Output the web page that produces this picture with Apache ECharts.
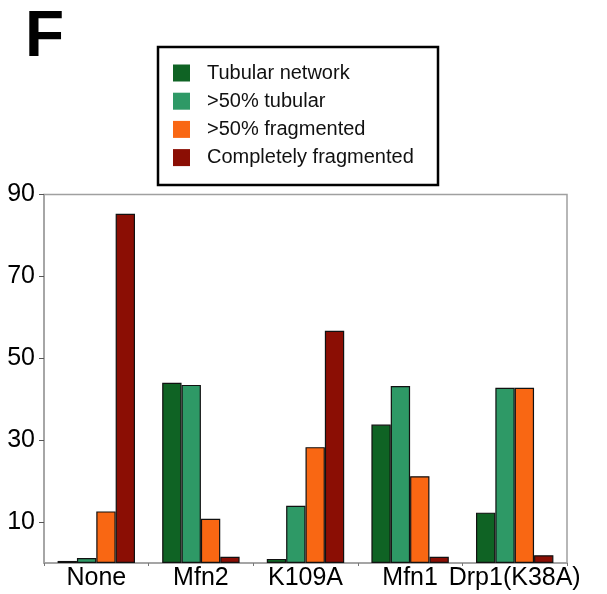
<!DOCTYPE html>
<html>
<head>
<meta charset="utf-8">
<script src="https://cdn.jsdelivr.net/npm/echarts@6/dist/echarts.min.js"></script>
<style>
  html, body { margin: 0; padding: 0; background: #fff; }
  #chart { width: 607px; height: 594px; }
</style>
</head>
<body>
<div id="chart"></div>
<script>
const categories = ['None', 'Mfn2', 'K109A', 'Mfn1', 'Drp1(K38A)'];
const seriesNames = ['Tubular network', '>50% tubular', '>50% fragmented', 'Completely fragmented'];
const tubularNetwork = [0.5, 44.0, 1.0, 33.8, 12.3];
const tubular50 = [1.2, 43.5, 14.0, 43.2, 42.8];
const fragmented50 = [12.6, 10.8, 28.3, 21.2, 42.8];
const completelyFragmented = [85.3, 1.5, 56.7, 1.5, 1.9];
const yTicks = [10, 30, 50, 70, 90];

const colors = ['#0f6324', '#2e9966', '#f96713', '#8b0e04'];
const font = "'Liberation Sans', Arial, Helvetica, sans-serif";

const chart = echarts.init(document.getElementById('chart'));

const makeSeries = (name, data, color) => ({
  name,
  type: 'bar',
  data,
  barGap: 0,
  barCategoryGap: '26%',
  itemStyle: { color, borderColor: '#111', borderWidth: 1.2 },
  emphasis: { disabled: true },
});

chart.setOption({
  animation: false,
  grid: {
    left: 44,
    right: 40,
    top: 194.5,
    bottom: 31,
    show: true,
    borderColor: '#a0a0a0',
    borderWidth: 1.5,
  },
  legend: {
    orient: 'vertical',
    left: 173,
    top: 63,
    padding: 0,
    itemWidth: 17,
    itemHeight: 17,
    itemGap: 8.2,
    itemStyle: { borderWidth: 0 },
    textStyle: { fontFamily: font, fontSize: 20, color: '#111', lineHeight: 17, padding: [0, 0, 0, 12] },
    icon: 'rect',
    selectedMode: false,
    data: seriesNames,
  },
  graphic: [
    {
      type: 'rect',
      shape: { x: 158, y: 47, width: 280, height: 138 },
      style: { fill: 'none', stroke: '#000', lineWidth: 2.5 },
    },
    {
      type: 'text',
      x: 25,
      y: 6,
      style: {
        text: 'F',
        font: "bold 64px 'Liberation Sans', Arial, sans-serif",
        fill: '#000',
        textVerticalAlign: 'top',
      },
    },
  ],
  xAxis: {
    type: 'category',
    data: categories,
    axisLine: { show: true, lineStyle: { color: '#a0a0a0', width: 1.5 } },
    axisTick: { show: true, length: 3, lineStyle: { color: '#777' } },
    axisLabel: { interval: 0, fontFamily: font, fontSize: 25, color: '#000', margin: 3 },
  },
  yAxis: {
    type: 'value',
    min: 0,
    max: 90,
    splitLine: { show: false },
    axisLine: { show: true, lineStyle: { color: '#a0a0a0', width: 1.5 } },
    axisTick: { show: true, length: 5, customValues: yTicks, lineStyle: { color: '#555' } },
    axisLabel: { customValues: yTicks, fontFamily: font, fontSize: 25, color: '#000', margin: 9 },
  },
  series: [
    makeSeries(seriesNames[0], tubularNetwork, colors[0]),
    makeSeries(seriesNames[1], tubular50, colors[1]),
    makeSeries(seriesNames[2], fragmented50, colors[2]),
    makeSeries(seriesNames[3], completelyFragmented, colors[3]),
  ],
});
</script>
</body>
</html>
